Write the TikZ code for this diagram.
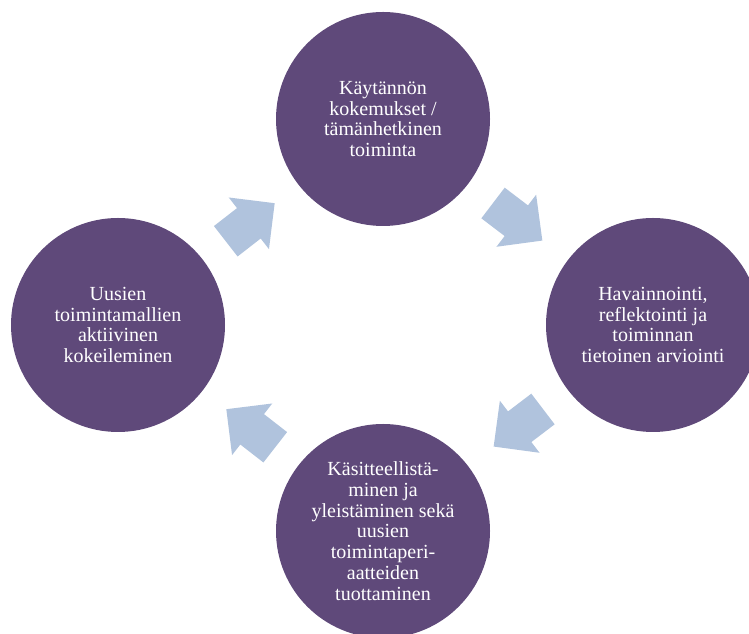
\documentclass[tikz,border=0pt]{standalone}
\usepackage{fontspec}
\setmainfont{Liberation Serif}
\usetikzlibrary{shapes.arrows,calc}
\definecolor{cyclepurple}{HTML}{5F497A}
\definecolor{cycleblue}{HTML}{B0C3DD}

\begin{document}
\begin{tikzpicture}[x=0.75pt,y=0.75pt,
  phase/.style={circle,fill=cyclepurple,minimum size=160.5pt,inner sep=0pt,text=white,align=center,font=\fontsize{15}{15.6}\selectfont},
  turn/.style={single arrow,fill=cycleblue,minimum height=46.5pt,minimum width=48.75pt,single arrow head extend=10.1pt,single arrow tip angle=90,inner xsep=0pt,inner ysep=14.25pt,anchor=tip}]
\useasboundingbox (0,0) rectangle (749,634);
\path (383,515) node[phase] (T) {Käytännön\\kokemukset /\\tämänhetkinen\\toiminta};
\path (653,309) node[phase] (R) {Havainnointi,\\reflektointi ja\\toiminnan\\tietoinen arviointi};
\path (383,103) node[phase] (B) {Käsitteellistä-\\minen ja\\yleistäminen sekä\\uusien\\toimintaperi-\\aatteiden\\tuottaminen};
\path (118,309) node[phase] (L) {Uusien\\toimintamallien\\aktiivinen\\kokeileminen};

\path ($(L)!0.5!(T)!23.25pt!(T)$) node[turn,rotate=37.9] (LT) {};
\path ($(T)!0.5!(R)!23.25pt!(R)$) node[turn,rotate=-37.3] (TR) {};
\path ($(R)!0.5!(B)!23.25pt!(B)$) node[turn,rotate=217.3] (RB) {};
\path ($(B)!0.5!(L)!23.25pt!(L)$) node[turn,rotate=142.1] (BL) {};
\end{tikzpicture}
\end{document}
